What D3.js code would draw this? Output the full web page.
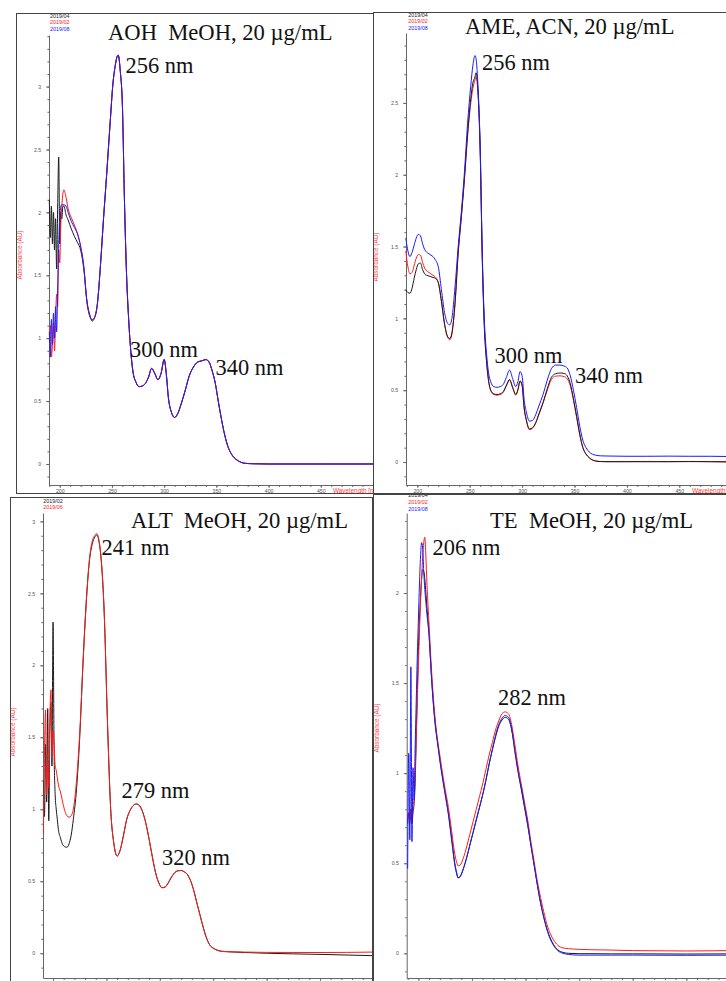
<!DOCTYPE html>
<html><head><meta charset="utf-8">
<script src="https://cdn.jsdelivr.net/npm/d3@7"></script>
<style>body{margin:0;background:#fff}svg{display:block}</style>
</head><body>
<script>
// ---------------- DATA ----------------
const xMajorTicks = [200, 250, 300, 350, 400, 450];
const yAxisTitle = "Absorbance (AU)";
const xAxisTitle = "Wavelength [nm]";

// Panel 1: AOH in MeOH
const aohTitle = "AOH  MeOH, 20 µg/mL";
const aohPeaks = ["256 nm", "300 nm", "340 nm"];
const aohLegend = ["2019/04", "2019/02", "2019/08"];
const aohYTicks = [0, 0.5, 1, 1.5, 2, 2.5, 3];
const aohNm = [190,191,192,193,194,195,196,197,198,199,200,201,202,203,204,
  206,208,211,214,217,220,223,226,229,
  231,233,236,239,242,245,248,251,253,255,256,258,260,262,264,266,268,270,
  273,276,279,282,285,288,291,294,297,300,
  302,304,307,310,313,316,320,324,328,332,336,340,
  343,346,349,352,355,358,361,364,367,370,
  374,378,385,400,450,500];
const aoh201904 = [2.1,1.8,2.05,1.75,2.0,1.7,1.95,1.55,2.05,2.44,1.75,2.0,1.95,2.05,2.05,
  1.98,1.94,1.87,1.81,1.76,1.70,1.55,1.3,1.18,
  1.135,1.155,1.27,1.58,1.96,2.31,2.68,3.03,3.16,3.24,3.25,3.12,2.85,2.08,1.5,1.15,0.9,0.74,
  0.65,0.615,0.62,0.64,0.69,0.76,0.72,0.67,0.72,0.83,
  0.72,0.53,0.41,0.37,0.4,0.47,0.58,0.7,0.77,0.81,0.82,0.83,
  0.81,0.74,0.64,0.49,0.35,0.23,0.14,0.085,0.05,0.03,
  0.012,0.005,0.002,0,0,0];
const aoh201902 = [1.05,1.1,0.85,0.95,1.12,0.9,1.15,1.35,1.25,1.7,1.6,1.9,2.05,2.15,2.18,
  2.12,2.03,1.96,1.9,1.83,1.73,1.57,1.29,1.17,
  1.146,1.16,1.27,1.58,1.96,2.31,2.68,3.03,3.16,3.24,3.25,3.12,2.85,2.08,1.5,1.15,0.9,0.74,
  0.65,0.615,0.62,0.64,0.69,0.76,0.72,0.67,0.72,0.83,
  0.72,0.53,0.41,0.37,0.4,0.47,0.58,0.7,0.77,0.81,0.82,0.83,
  0.81,0.74,0.64,0.49,0.35,0.23,0.14,0.085,0.05,0.03,
  0.012,0.005,0.002,0,0,0];
const aoh201908 = [1.05,0.85,1.15,0.95,1.2,1.0,1.25,1.05,1.4,1.75,1.95,2.05,2.06,2.06,2.06,
  2.05,2.0,1.93,1.88,1.83,1.73,1.57,1.29,1.17,
  1.146,1.16,1.27,1.58,1.96,2.31,2.68,3.03,3.16,3.24,3.25,3.12,2.85,2.08,1.5,1.15,0.9,0.74,
  0.65,0.615,0.62,0.64,0.69,0.76,0.72,0.67,0.72,0.83,
  0.72,0.53,0.41,0.37,0.4,0.47,0.58,0.7,0.77,0.81,0.82,0.83,
  0.81,0.74,0.64,0.49,0.35,0.23,0.14,0.085,0.05,0.03,
  0.012,0.005,0.002,0,0,0];

// Panel 2: AME in ACN
const ameTitle = "AME, ACN, 20 µg/mL";
const amePeaks = ["256 nm", "300 nm", "340 nm"];
const ameLegend = ["2019/04", "2019/02", "2019/08"];
const ameYTicks = [0, 0.5, 1, 1.5, 2, 2.5];
const ameNm = [189,191,193,195,197,199,201,203,205,207,209,211,213,215,217,
  220,223,226,229,
  231,233,236,239,242,245,248,251,253,255,256,258,260,262,264,266,268,270,
  273,276,279,282,285,288,291,294,296,298,300,
  302,304,307,310,313,316,320,324,328,332,336,340,
  343,346,349,352,355,358,361,364,367,370,
  375,380,400,420,440,460,480,500];
const ame201904 = [1.2,1.18,1.175,1.21,1.28,1.34,1.38,1.385,1.34,1.31,1.3,1.295,1.29,1.285,1.28,
  1.25,1.12,0.96,0.87,
  0.86,0.9,1.11,1.46,1.71,1.98,2.29,2.53,2.64,2.68,2.71,2.57,2.17,1.42,0.94,0.71,0.57,0.5,
  0.475,0.47,0.475,0.49,0.535,0.575,0.52,0.47,0.505,0.565,0.535,
  0.375,0.295,0.23,0.24,0.275,0.335,0.415,0.51,0.59,0.615,0.62,0.617,
  0.6,0.545,0.44,0.32,0.195,0.1,0.055,0.03,0.015,0.007,
  0.003,0.002,0.002,0.002,0.002,0.003,0.002,0.0];
const ame201902 = [1.47,1.36,1.31,1.32,1.37,1.42,1.445,1.44,1.39,1.35,1.33,1.32,1.31,1.30,1.29,
  1.25,1.12,0.96,0.87,
  0.85,0.89,1.1,1.45,1.7,1.97,2.27,2.5,2.6,2.66,2.68,2.55,2.15,1.4,0.93,0.7,0.56,0.5,
  0.47,0.465,0.47,0.485,0.53,0.57,0.515,0.466,0.5,0.56,0.53,
  0.37,0.29,0.225,0.235,0.27,0.33,0.41,0.5,0.575,0.598,0.6,0.595,
  0.58,0.53,0.43,0.31,0.19,0.1,0.055,0.03,0.015,0.008,
  0.004,0.003,0.003,0.004,0.003,0.004,0.003,0.002];
const ame201908 = [1.56,1.47,1.43,1.46,1.51,1.56,1.585,1.575,1.52,1.48,1.46,1.45,1.44,1.43,1.41,
  1.36,1.2,1.04,0.965,
  0.955,1.0,1.22,1.5,1.74,2.02,2.36,2.62,2.76,2.83,2.81,2.6,2.2,1.45,0.98,0.76,0.62,0.56,
  0.525,0.52,0.525,0.54,0.59,0.64,0.58,0.525,0.56,0.63,0.6,
  0.43,0.35,0.285,0.29,0.33,0.39,0.47,0.57,0.65,0.675,0.675,0.668,
  0.655,0.6,0.5,0.38,0.25,0.15,0.1,0.07,0.055,0.048,
  0.043,0.042,0.04,0.04,0.041,0.04,0.04,0.038];

// Panel 3: ALT in MeOH
const altTitle = "ALT  MeOH, 20 µg/mL";
const altPeaks = ["241 nm", "279 nm", "320 nm"];
const altLegend = ["2019/02", "2019/06"];
const altYTicks = [0, 0.5, 1, 1.5, 2, 2.5, 3];
const altNm = [191,192,193,194,195,196,197,198,199,200,201,202,203,204,205,
  207,209,211,213,215,217,219,
  222,225,228,231,234,237,239,241,243,245,
  248,251,254,257,260,263,266,269,272,275,278,281,284,287,290,293,296,299,
  302,305,308,311,314,317,320,323,326,329,332,335,338,341,344,347,350,
  355,360,370,380,400,450,500];
const alt201902 = [1.2,0.95,1.45,1.05,1.7,0.92,1.55,1.74,1.3,2.3,1.4,1.1,1.0,0.93,0.86,
  0.8,0.755,0.74,0.736,0.76,0.82,0.93,
  1.14,1.5,2.01,2.43,2.72,2.85,2.89,2.905,2.86,2.74,
  2.35,1.6,1.0,0.76,0.675,0.72,0.82,0.93,0.99,1.025,1.037,1.025,0.98,0.9,0.79,0.67,0.56,0.49,
  0.455,0.46,0.49,0.53,0.56,0.573,0.575,0.565,0.545,0.5,0.43,0.34,0.255,0.17,0.1,0.055,0.035,
  0.018,0.012,0.008,0.005,0.0,-0.008,-0.017];
const alt201906 = [0.83,1.41,1.69,1.1,1.32,1.15,1.6,1.83,1.35,1.55,1.45,1.3,1.27,1.22,1.17,
  1.12,1.05,0.99,0.955,0.945,0.955,1.0,
  1.2,1.53,2.0,2.42,2.73,2.87,2.9,2.915,2.87,2.75,
  2.35,1.6,1.0,0.76,0.675,0.72,0.82,0.93,0.99,1.025,1.037,1.025,0.98,0.9,0.79,0.67,0.56,0.49,
  0.455,0.46,0.49,0.53,0.56,0.573,0.575,0.565,0.545,0.5,0.43,0.34,0.255,0.17,0.1,0.055,0.035,
  0.018,0.012,0.01,0.008,0.006,0.005,0.008];

// Panel 4: TE in MeOH
const teTitle = "TE  MeOH, 20 µg/mL";
const tePeaks = ["206 nm", "282 nm"];
const teLegend = ["2019/04", "2019/02", "2019/08"];
const teYTicks = [0, 0.5, 1, 1.5, 2];
const teNm = [190,191,192,193,194,195,196,197,198,199,200,201,202,203,204,205,206,207,208,
  210,212,214,216,218,220,222,
  225,228,231,234,236,237,239,
  242,245,248,251,254,257,260,263,266,269,272,275,278,281,284,287,290,293,296,299,
  302,305,308,311,314,317,320,323,326,
  330,335,340,350,360,380,400,450,500];
const te201904 = [0.72,0.78,0.74,0.8,0.72,0.78,0.83,0.95,1.2,1.45,1.68,1.85,1.98,2.08,2.13,2.12,2.08,2.0,1.92,
  1.77,1.56,1.39,1.26,1.17,1.08,1.0,
  0.89,0.78,0.64,0.5,0.44,0.42,0.428,
  0.47,0.53,0.6,0.67,0.74,0.81,0.88,0.96,1.05,1.13,1.2,1.26,1.295,1.31,1.3,1.24,1.13,1.01,0.91,0.81,
  0.71,0.6,0.49,0.38,0.28,0.2,0.135,0.085,0.05,
  0.02,0.005,0.0,-0.002,-0.002,-0.003,-0.003,-0.004,-0.003];
const te201902 = [0.75,0.78,0.72,0.8,0.76,0.82,0.85,1.0,1.2,1.4,1.6,1.78,1.95,2.08,2.2,2.28,2.31,2.2,2.05,
  1.82,1.6,1.42,1.28,1.18,1.1,1.02,
  0.91,0.81,0.68,0.55,0.5,0.485,0.49,
  0.53,0.59,0.66,0.73,0.8,0.87,0.94,1.02,1.1,1.17,1.24,1.29,1.33,1.34,1.33,1.27,1.16,1.04,0.94,0.84,
  0.74,0.62,0.51,0.4,0.31,0.23,0.16,0.11,0.075,
  0.045,0.03,0.026,0.022,0.02,0.018,0.015,0.013,0.016];
const te201908 = [0.47,1.11,0.63,1.59,0.62,1.03,0.85,1.15,1.4,1.65,1.85,2.05,2.2,2.28,2.25,2.12,2.02,1.95,1.88,
  1.76,1.55,1.38,1.25,1.16,1.07,0.99,
  0.88,0.77,0.63,0.49,0.435,0.418,0.425,
  0.47,0.53,0.6,0.67,0.74,0.81,0.88,0.96,1.05,1.13,1.21,1.27,1.305,1.32,1.31,1.25,1.12,1.01,0.92,0.82,
  0.72,0.6,0.49,0.38,0.28,0.2,0.13,0.08,0.045,
  0.015,0.0,-0.006,-0.01,-0.01,-0.01,-0.01,-0.011,-0.01];

// ---------------- LAYOUT ----------------
const C_BLACK = "#1a1a1a", C_RED = "#ff1a1a", C_BLUE = "#1a1aff";
const panels = [
  { frame:[16,13,357,480], xDomain:[189.7,500], xRange:[49,373], yDomain:[-0.167,3.41], yRange:[485,35],
    yTicks:aohYTicks, nm:aohNm,
    series:[[aoh201904,C_BLACK],[aoh201902,C_RED],[aoh201908,C_BLUE]],
    legend:aohLegend, legendColors:[C_BLACK,C_RED,C_BLUE], legendPos:[50,17.5],
    yLabelPos:[21.5,255], xLabelPos:[333,492.5], xTickLabels:true,
    title:[aohTitle,108,40], peaks:[[aohPeaks[0],125.5,73],[aohPeaks[1],130,357],[aohPeaks[2],215.5,375]] },
  { frame:[373,12,360,481], xDomain:[189.2,500], xRange:[406,731.7], yDomain:[-0.16,2.987], yRange:[485,33],
    yTicks:ameYTicks, nm:ameNm,
    series:[[ame201902,C_RED],[ame201904,C_BLACK],[ame201908,C_BLUE]],
    legend:ameLegend, legendColors:[C_BLACK,C_RED,C_BLUE], legendPos:[408.3,16.7],
    yLabelPos:[378,257], xLabelPos:[692,492.5], xTickLabels:true,
    title:[ameTitle,465,33.5], peaks:[[amePeaks[0],482,69.5],[amePeaks[1],494.5,363],[amePeaks[2],575,383]] },
  { frame:[10,497,362,490], xDomain:[190.6,500], xRange:[43,373.4], yDomain:[-0.172,3.058], yRange:[978,513],
    yTicks:altYTicks, nm:altNm,
    series:[[alt201902,C_BLACK],[alt201906,C_RED]],
    legend:altLegend, legendColors:[C_BLACK,C_RED], legendPos:[43.3,502.7],
    yLabelPos:[15,732], xLabelPos:null, xTickLabels:false,
    title:[altTitle,131,528], peaks:[[altPeaks[0],101.5,555],[altPeaks[1],121.5,798],[altPeaks[2],162,865]] },
  { frame:[373,494,360,490], xDomain:[189.1,500], xRange:[406.7,739.9], yDomain:[-0.137,2.444], yRange:[978,513],
    yTicks:teYTicks, nm:teNm,
    series:[[te201904,C_BLACK],[te201902,C_RED],[te201908,C_BLUE]],
    legend:teLegend, legendColors:[C_BLACK,C_RED,C_BLUE], legendPos:[408.3,497.3],
    yLabelPos:[378.5,728], xLabelPos:null, xTickLabels:false,
    title:[teTitle,490,528], peaks:[[tePeaks[0],432.5,555],[tePeaks[1],498,705]] }
];

// ---------------- DRAW ----------------
const svg = d3.select("body").append("svg").attr("width",726).attr("height",981);
const defs = svg.append("defs");
const AX = "#666";
const SANS = "Liberation Sans, Arial, sans-serif";
const SERIF = "Liberation Serif, 'Times New Roman', serif";

panels.forEach((p, i) => {
  defs.append("clipPath").attr("id","clip"+i).append("rect")
    .attr("x",p.frame[0]).attr("y",p.frame[1]).attr("width",p.frame[2]).attr("height",p.frame[3]);
  const g = svg.append("g").attr("clip-path",`url(#clip${i})`);
  const x = d3.scaleLinear().domain(p.xDomain).range(p.xRange);
  const y = d3.scaleLinear().domain(p.yDomain).range(p.yRange);

  // y minor ticks
  const yMinor = d3.range(Math.ceil(p.yDomain[0]*10), Math.floor(p.yDomain[1]*10)+1).map(v => v/10);
  g.append("g").attr("transform",`translate(${p.xRange[0]},0)`)
    .call(d3.axisLeft(y).tickValues(yMinor).tickSize(1.6).tickFormat("").tickSizeOuter(0))
    .call(s => s.select(".domain").attr("stroke",AX))
    .call(s => s.selectAll(".tick line").attr("stroke",AX));
  // y major ticks
  g.append("g").attr("transform",`translate(${p.xRange[0]},0)`)
    .call(d3.axisLeft(y).tickValues(p.yTicks).tickSize(2.8).tickPadding(5).tickFormat(d => String(d)).tickSizeOuter(0))
    .call(s => s.select(".domain").remove())
    .call(s => s.selectAll(".tick line").attr("stroke",AX))
    .call(s => s.selectAll("text").attr("font-family",SANS).attr("font-size",5.2).attr("fill","#555"));

  // x minor ticks
  const xMinor = d3.range(190, 501, 10).filter(v => v >= p.xDomain[0]);
  g.append("g").attr("transform",`translate(0,${p.yRange[0]})`)
    .call(d3.axisBottom(x).tickValues(xMinor).tickSize(2).tickFormat("").tickSizeOuter(0))
    .call(s => s.select(".domain").attr("stroke",AX))
    .call(s => s.selectAll(".tick line").attr("stroke",AX));
  g.append("g").attr("transform",`translate(0,${p.yRange[0]})`)
    .call(d3.axisBottom(x).tickValues(xMajorTicks).tickSize(2.8).tickPadding(1.5)
      .tickFormat(d => p.xTickLabels ? String(d) : "").tickSizeOuter(0))
    .call(s => s.select(".domain").remove())
    .call(s => s.selectAll(".tick line").attr("stroke",AX))
    .call(s => s.selectAll("text").attr("font-family",SANS).attr("font-size",5.2).attr("fill","#555"))
    .call(s => { if (!p.xTickLabels) s.selectAll("text").remove(); });

  // series
  const line = d3.line().x(d => x(d[0])).y(d => y(d[1])).curve(d3.curveMonotoneX);
  p.series.forEach(([vals, col]) => {
    const pts = p.nm.map((w, k) => [w, vals[k]]);
    g.append("path").datum(pts).attr("d",line).attr("fill","none")
      .attr("stroke",col).attr("stroke-width",1).attr("stroke-linejoin","round");
  });

  // legend
  p.legend.forEach((t, k) => {
    g.append("text").attr("x",p.legendPos[0]).attr("y",p.legendPos[1] + k*6.7)
      .attr("font-family",SANS).attr("font-size",5.4)
      .attr("fill",p.legendColors[k]).text(t);
  });

  // axis titles
  g.append("text").attr("transform",`translate(${p.yLabelPos[0]},${p.yLabelPos[1]}) rotate(-90)`)
    .attr("text-anchor","middle").attr("font-family",SANS)
    .attr("font-size",6.4).attr("fill","#ff3b3b").text(yAxisTitle);
  if (p.xLabelPos) {
    g.append("text").attr("x",p.xLabelPos[0]).attr("y",p.xLabelPos[1])
      .attr("font-family",SANS).attr("font-size",6.4).attr("fill","#ff3b3b").text(xAxisTitle);
  }

  // titles / peak annotations
  g.append("text").attr("x",p.title[1]).attr("y",p.title[2]).attr("font-family",SERIF)
    .attr("font-size",22.6).attr("fill","#111").style("white-space","pre").text(p.title[0]);
  p.peaks.forEach(([t, px, py]) => {
    g.append("text").attr("x",px).attr("y",py).attr("font-family",SERIF)
      .attr("font-size",22.4).attr("fill","#111").text(t);
  });

  // frame
  svg.append("rect").attr("x",p.frame[0]+0.5).attr("y",p.frame[1]+0.5)
    .attr("width",p.frame[2]).attr("height",p.frame[3])
    .attr("fill","none").attr("stroke","#444").attr("stroke-width",1);
});
</script>
</body></html>
